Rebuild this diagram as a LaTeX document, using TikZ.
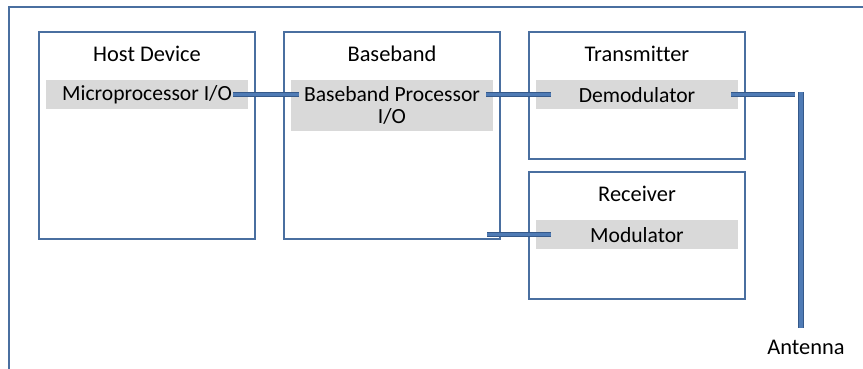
\documentclass[tikz,border=0pt]{standalone}
\usepackage{fontspec}
\setmainfont{Carlito}[Ligatures=NoCommon]
\usetikzlibrary{positioning}
\definecolor{frameblue}{HTML}{4A6FA0}
\definecolor{linkblue}{HTML}{4F7BB5}
\definecolor{linkedge}{HTML}{35598A}
\definecolor{bargray}{HTML}{D9D9D9}
\tikzset{
  unit/.style={draw=frameblue,line width=1.5pt,minimum width=162pt,inner sep=0pt},
  iobar/.style={fill=bargray,minimum width=151.5pt,minimum height=21.75pt,inner sep=0pt,align=center,font=\fontsize{16.2}{16.5}\selectfont},
  title/.style={font=\fontsize{16.8}{16.5}\selectfont,inner sep=0pt},
  link/.style={draw=linkedge,line width=0.75pt,double=linkblue,double distance=2.5pt},
}
\begin{document}
\begin{tikzpicture}[x=0.75pt,y=-0.75pt]
    \useasboundingbox (0,0) rectangle (863,368);
    \draw[frameblue,line width=1.5pt] (9,372) -- (9,7) -- (867,7);

    \node[unit,minimum height=155.25pt,anchor=north west] (host) at (38,31) {};
    \node[unit,minimum height=155.25pt,anchor=north west] (base) at (283,31) {};
    \node[unit,minimum height=95.25pt,anchor=north west] (tx) at (528,31) {};
    \node[unit,minimum height=95.25pt,anchor=north west] (rx) at (528,171) {};

    \node[title] (hostname) at ([yshift=-17.25pt]host.north) {Host Device};
    \node[title] (basename) at ([yshift=-17.25pt]base.north) {Baseband};
    \node[title] (txname) at ([yshift=-17.25pt]tx.north) {Transmitter};
    \node[title] (rxname) at ([yshift=-17.25pt]rx.north) {Receiver};

    \node[iobar,anchor=north] (hostio) at ([yshift=-36.75pt]host.north) {Microprocessor I/O};
    \node[iobar,anchor=north,minimum height=38.25pt] (baseio) at ([yshift=-36.75pt]base.north) {Baseband Processor\\I/O};
    \node[iobar,anchor=north] (demod) at ([yshift=-36.75pt]tx.north) {Demodulator};
    \node[iobar,anchor=north] (mod) at ([yshift=-36.75pt]rx.north) {Modulator};

    \node[title] (antenna) at (806,347) {Antenna};
    \coordinate (mast) at (801,92);
    \coordinate (mastfoot) at (801,328);

    \draw[link] ([xshift=-11.25pt]hostio.east) -- ([xshift=6pt]baseio.west |- hostio.east);
    \draw[link] ([xshift=-5.25pt]baseio.east |- demod.west) -- ([xshift=11.25pt]demod.west);
    \draw[link] ([xshift=-10.5pt]mod.west -| base.east) -- ([xshift=11.25pt]mod.west);
    \draw[link] ([xshift=-5.25pt]demod.east) -- ([xshift=-4.5pt]mast |- demod.east);
    \draw[link,double distance=3.5pt] (mast) -- (mastfoot);
\end{tikzpicture}
\end{document}
